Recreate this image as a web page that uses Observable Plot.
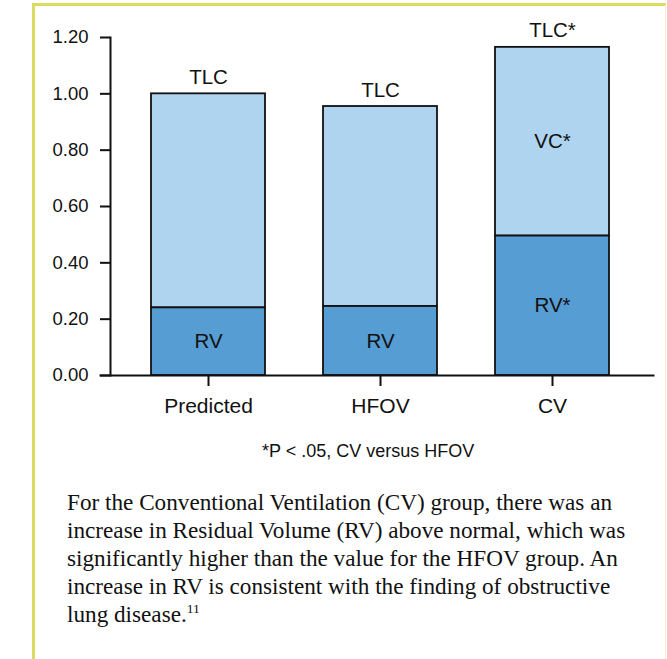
<!DOCTYPE html>
<html>
<head>
<meta charset="utf-8">
<script src="https://cdn.jsdelivr.net/npm/d3@7"></script>
<script src="https://cdn.jsdelivr.net/npm/@observablehq/plot@0.6"></script>
<style>
  html, body { margin: 0; padding: 0; background: #fff; }
  #page { position: relative; width: 667px; height: 659px; overflow: hidden; background: #fff; }
  #border { position: absolute; left: 32px; top: 3px; width: 630px; height: 700px;
            border-left: 3px solid #d9dc5e; border-top: 3px solid #d9dc5e; border-right: 1px solid #f0f2cc; }
  #chart { position: absolute; left: 0; top: 0; }
  #footnote { position: absolute; left: 262px; top: 441px; font: 18px "Liberation Sans", Arial, sans-serif; line-height: 20px; color: #111; white-space: nowrap; }
  #caption { position: absolute; left: 67px; top: 488px; font: 23.2px "Liberation Serif", "Times New Roman", serif; line-height: 28px; color: #111; white-space: nowrap; }
  #caption sup { font-size: 13.5px; vertical-align: 9px; line-height: 0; }
</style>
</head>
<body>
<div id="page">
  <div id="border"></div>
  <div id="chart"></div>
  <div id="footnote">*P &lt; .05, CV versus HFOV</div>
  <div id="caption">For the Conventional Ventilation (CV) group, there was an<br>increase in Residual Volume (RV) above normal, which was<br>significantly higher than the value for the HFOV group. An<br>increase in RV is consistent with the finding of obstructive<br>lung disease.<sup>11</sup></div>
</div>
<script>
const groups = ["Predicted", "HFOV", "CV"];
const rv = [0.24, 0.245, 0.495];
const tlc = [1.0, 0.955, 1.165];
const rvLabels = ["RV", "RV", "RV*"];
const vcLabels = ["", "", "VC*"];
const tlcLabels = ["TLC", "TLC", "TLC*"];
const yTicks = [0, 0.2, 0.4, 0.6, 0.8, 1.0, 1.2];

const rows = groups.map((g, i) => ({
  group: g, rv: rv[i], tlc: tlc[i],
  rvLabel: rvLabels[i], vcLabel: vcLabels[i], tlcLabel: tlcLabels[i]
}));

const H = 430;
const chart = Plot.plot({
  width: 667,
  height: H,
  marginLeft: 100,
  marginRight: 14,
  marginTop: 37,
  marginBottom: H - 375,
  style: { fontFamily: "'Liberation Sans', Arial, sans-serif", color: "#111", background: "transparent" },
  x: { domain: groups, range: [110, 650], paddingInner: 0.337, paddingOuter: 0.238, align: 0.5 },
  y: { domain: [0, 1.2], range: [375, 37] },
  marks: [
    Plot.barY(rows, { x: "group", y1: "rv", y2: "tlc", fill: "#aed4f0", stroke: "#111", strokeWidth: 1.8 }),
    Plot.barY(rows, { x: "group", y1: 0, y2: "rv", fill: "#559dd2", stroke: "#111", strokeWidth: 1.8 }),
    Plot.text(rows, { x: "group", y: d => d.rv / 2, text: "rvLabel", fontSize: 20.5, fill: "#111" }),
    Plot.text(rows, { x: "group", y: d => (d.rv + d.tlc) / 2, text: "vcLabel", fontSize: 20.5, fill: "#111" }),
    Plot.text(rows, { x: "group", y: "tlc", text: "tlcLabel", lineAnchor: "bottom", dy: -10, fontSize: 20.5, fill: "#111" }),
    Plot.frame({ anchor: "left", dx: 10, strokeWidth: 2, stroke: "#111" }),
    Plot.frame({ anchor: "bottom", strokeWidth: 2, stroke: "#111" }),
    Plot.axisY({ ticks: yTicks, tickFormat: d3.format(".2f"), tickSize: 10, tickPadding: 12, dx: 10, fontSize: 18.5, strokeWidth: 2, label: null }),
    Plot.axisX({ tickSize: 11, tickPadding: 12, fontSize: 21, strokeWidth: 2, label: null })
  ]
});
document.getElementById("chart").appendChild(chart);
</script>
</body>
</html>
